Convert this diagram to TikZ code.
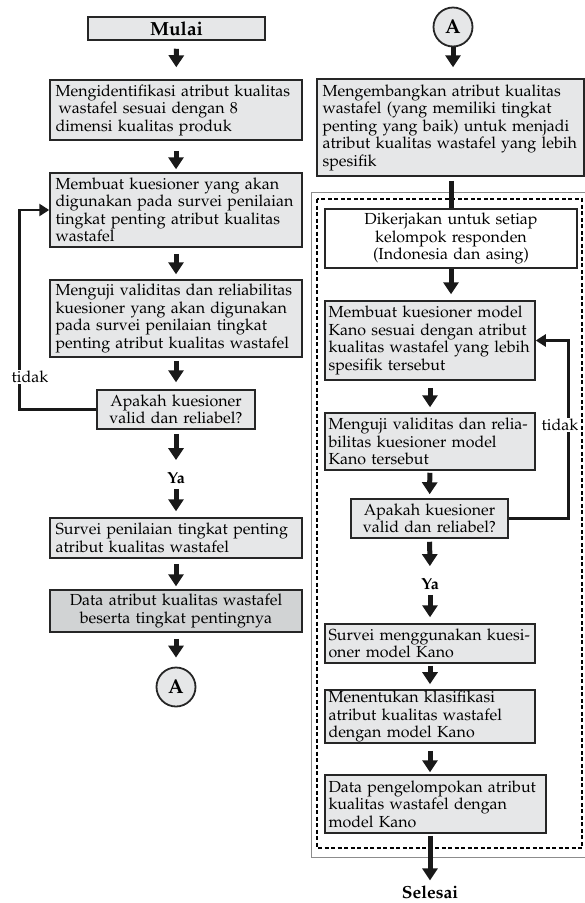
\documentclass[tikz,border=0pt]{standalone}
\usepackage[T1]{fontenc}
\usepackage{mathpazo}
\usetikzlibrary{positioning}
\usetikzlibrary{calc}
\usetikzlibrary{arrows.meta}
\definecolor{boxgray}{HTML}{E6E7E8}
\definecolor{datagray}{HTML}{D1D3D4}
\newcommand{\boxfont}{\fontsize{16}{17.5}\selectfont}
\newcommand{\headfont}{\fontsize{19}{21}\selectfont\bfseries}

\begin{document}
\begin{tikzpicture}[x=1pt,y=-1pt]
                % Styles
                \tikzset{
                    box/.style={draw=black!85,line width=1.5pt,fill=boxgray,inner xsep=6pt,inner ysep=1pt,align=left,font=\boxfont},
                    ask/.style={box,align=center},
                    conn/.style={draw=black!85,line width=1.8pt,fill=boxgray,circle,minimum size=39pt,inner sep=0pt,font=\fontsize{20}{22}\selectfont\bfseries},
                    flow/.style={line width=5pt,draw=black!90,-{Triangle[width=15pt,length=12pt]}},
                    back/.style={line width=2.6pt,draw=black!90,-{Triangle[width=12pt,length=10pt]}},
                    word/.style={inner sep=0pt,font=\boxfont}
                }
                \useasboundingbox (0,0) rectangle (585,903);

                % Frame of the right column
                \draw[black!45,line width=1pt] (311,192) rectangle (590,857);
                \draw[line width=1.8pt,dash pattern=on 4pt off 2.5pt] (317,199) rectangle (582,848);

                % Left column
                \node[box,align=center,minimum width=177pt,minimum height=23pt,inner ysep=0pt,font=\headfont] (start) at (176.5,28.5) {Mulai};
                \node[box,text width=241pt,inner xsep=5.5pt,minimum height=60pt] (ident) at (176,110) {Mengidentifikasi atribut kualitas\\\hspace*{3pt}wastafel sesuai dengan 8\\dimensi kualitas produk};
                \node[box,text width=241pt,inner xsep=5.5pt,minimum height=74pt] (make) at (176,210) {Membuat kuesioner yang akan\\digunakan pada survei penilaian\\tingkat penting atribut kualitas\\wastafel};
                \node[box,text width=241pt,inner xsep=5.5pt,minimum height=77pt] (test) at (176,318.5) {Menguji validitas dan reliabilitas\\kuesioner yang akan digunakan\\pada survei penilaian tingkat\\penting atribut kualitas wastafel};
                \node[ask,text width=146pt,minimum height=39pt] (valid) at (176,409.5) {Apakah kuesioner\\valid dan reliabel?};
                \node[word,font=\boxfont\bfseries] (yaL) at (176,478) {Ya};
                \node[box,text width=241pt,inner xsep=5.5pt,minimum height=40pt] (survey) at (176,538) {Survei penilaian tingkat penting\\atribut kualitas wastafel};
                \node[ask,fill=datagray,text width=241pt,inner xsep=5.5pt,minimum height=42pt] (data) at (176,611) {Data atribut kualitas wastafel\\beserta tingkat pentingnya};
                \node[conn] (outA) at (176,687) {A};
                \node[word,fill=white,inner ysep=1pt] (noL) at (30,377) {tidak};

                % Right column
                \node[conn] (inA) at (453,27) {A};
                \node[box,text width=256pt,inner xsep=5.5pt,minimum height=97pt] (grow) at (450.5,127.5) {Mengembangkan atribut kualitas\\wastafel (yang memiliki tingkat\\penting yang baik) untuk menjadi\\atribut kualitas wastafel yang lebih\\spesifik};
                \node[ask,fill=white,line width=1.2pt,text width=240pt,minimum height=59pt] (group) at (451,238.5) {Dikerjakan untuk setiap\\kelompok responden\\(Indonesia dan asing)};
                \node[box,text width=203pt,inner xsep=3.5pt,minimum height=79pt] (kano) at (430,340.5) {Membuat kuesioner model\\Kano sesuai dengan atribut\\kualitas wastafel yang lebih\\spesifik tersebut};
                \node[box,text width=203pt,inner xsep=3.5pt,minimum height=57pt] (ktest) at (430,441.5) {Menguji validitas dan relia-\\bilitas kuesioner model\\Kano tersebut};
                \node[ask,text width=145pt,minimum height=39pt] (kvalid) at (429.5,518.5) {Apakah kuesioner\\valid dan reliabel?};
                \node[word,font=\boxfont\bfseries] (yaR) at (430,584) {Ya};
                \node[box,text width=203pt,inner xsep=3.5pt,minimum height=39pt] (ksurvey) at (430,643.5) {Survei menggunakan kuesi-\\oner model Kano};
                \node[box,text width=203pt,inner xsep=3.5pt,minimum height=53pt] (klass) at (430,716.5) {Menentukan klasifikasi\\atribut kualitas wastafel\\dengan model Kano};
                \node[box,text width=214pt,inner xsep=3.5pt,minimum height=58pt] (kdata) at (435.5,804) {Data pengelompokan atribut\\kualitas wastafel dengan\\model Kano};
                \node[word,font=\fontsize{17.5}{20}\selectfont\bfseries] (stop) at (430,892) {Selesai};
                \node[word,fill=white,inner ysep=1pt] (noR) at (560,425) {tidak};

                % Connection
                \draw[flow,shorten <=8pt,shorten >=12pt] (start) -- (ident);
                \draw[flow,shorten <=10pt,shorten >=3pt] (ident) -- (make);
                \draw[flow,shorten <=6pt,shorten >=5pt] (make) -- (test);
                \draw[flow,shorten <=3pt,shorten >=7pt] (test) -- (valid);
                \draw[flow,shorten <=4pt,shorten >=12pt] (valid) -- (yaL);
                \draw[flow,shorten <=5pt,shorten >=6pt] (yaL) -- (survey);
                \draw[flow,shorten <=5pt,shorten >=3pt] (survey) -- (data);
                \draw[flow,shorten <=6pt,shorten >=9pt] (data) -- (outA);
                \draw[back] (valid.west) -- ++(-77,0) |- (make.west);

                \draw[flow,shorten >=11pt] (inA) -- (inA |- grow.north);
                \draw[line width=5pt,draw=black!90,shorten <=4pt] (grow.south -| group) -- (group.north);
                \draw[flow,shorten >=6pt] (group.south) -- (group.south |- kano.north);
                \draw[flow,shorten <=7pt,shorten >=5pt] (kano) -- (ktest);
                \draw[flow,shorten <=2pt,shorten >=4pt] (ktest) -- (kvalid);
                \draw[flow,shorten <=3pt,shorten >=12pt] (kvalid) -- (yaR);
                \draw[flow,shorten <=5pt,shorten >=6pt] (yaR) -- (ksurvey);
                \draw[flow,shorten <=2pt,shorten >=5pt] (ksurvey) -- (klass);
                \draw[flow,shorten <=7pt,shorten >=2pt] (klass) -- (klass |- kdata.north);
                \draw[flow,shorten <=2pt,shorten >=5pt] (stop |- kdata.south) -- (stop);
                \draw[back] (kvalid.east) -- ++(59.5,0) |- (kano.east);

                % Labels over the loops
                \node[word,fill=white,inner ysep=1pt] at (noL) {tidak};
                \node[word,fill=white,inner ysep=1pt] at (noR) {tidak};
            \end{tikzpicture}
\end{document}
